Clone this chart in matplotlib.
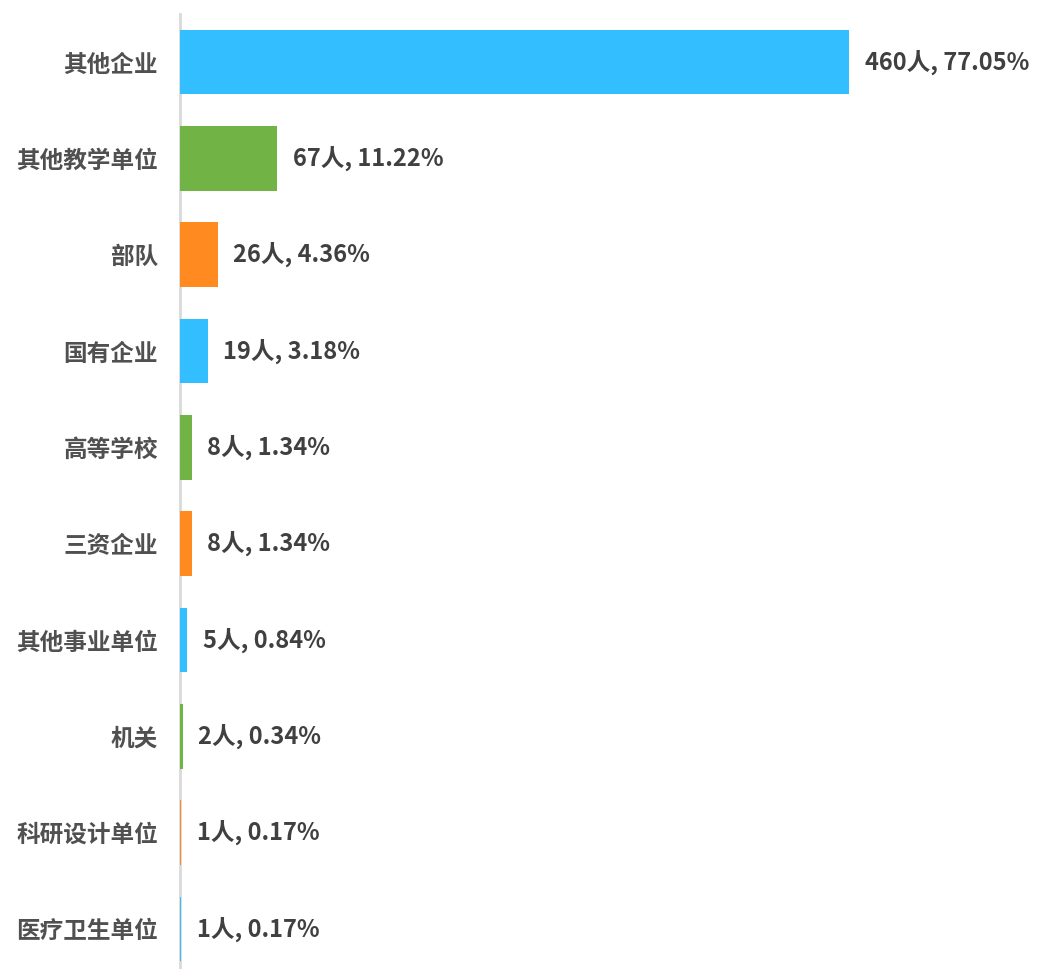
import matplotlib
matplotlib.use('Agg')
import matplotlib.pyplot as plt

plt.rcParams['font.family'] = ['Noto Sans CJK SC', 'DejaVu Sans']

# Data
categories = ['其他企业', '其他教学单位', '部队', '国有企业', '高等学校',
              '三资企业', '其他事业单位', '机关', '科研设计单位', '医疗卫生单位']
counts = [460, 67, 26, 19, 8, 8, 5, 2, 1, 1]
percents = [77.05, 11.22, 4.36, 3.18, 1.34, 1.34, 0.84, 0.34, 0.17, 0.17]
palette = ['#33BEFF', '#72B345', '#FF8A1F']

W, H = 1037, 969
fig = plt.figure(figsize=(W / 100, H / 100), dpi=100)
ax = fig.add_axes([180 / W, -8 / H, 857 / W, 963 / H])

y = list(range(len(categories)))
colors = [palette[i % 3] for i in y]
ax.barh(y, counts, height=0.67, color=colors, zorder=3)

for yi, c, p in zip(y, counts, percents):
    ax.annotate(f'{c}人, {p:.2f}%', xy=(c, yi), xytext=(11, 0),
                textcoords='offset points', va='center', ha='left',
                fontsize=17, fontweight='bold', color='#404040')

ax.set_yticks(y)
ax.set_yticklabels(categories, fontsize=17, fontweight='bold', color='#505050')
ax.tick_params(axis='y', length=0, pad=16)
ax.set_xticks([])
ax.set_xlim(0, 589)
ax.set_ylim(9.5, -0.5)

for s in ['top', 'right', 'bottom']:
    ax.spines[s].set_visible(False)
ax.spines['left'].set_color('#D9D9D9')
ax.spines['left'].set_linewidth(2)
ax.spines['left'].set_zorder(1)

fig.savefig('out.png', dpi=100)
